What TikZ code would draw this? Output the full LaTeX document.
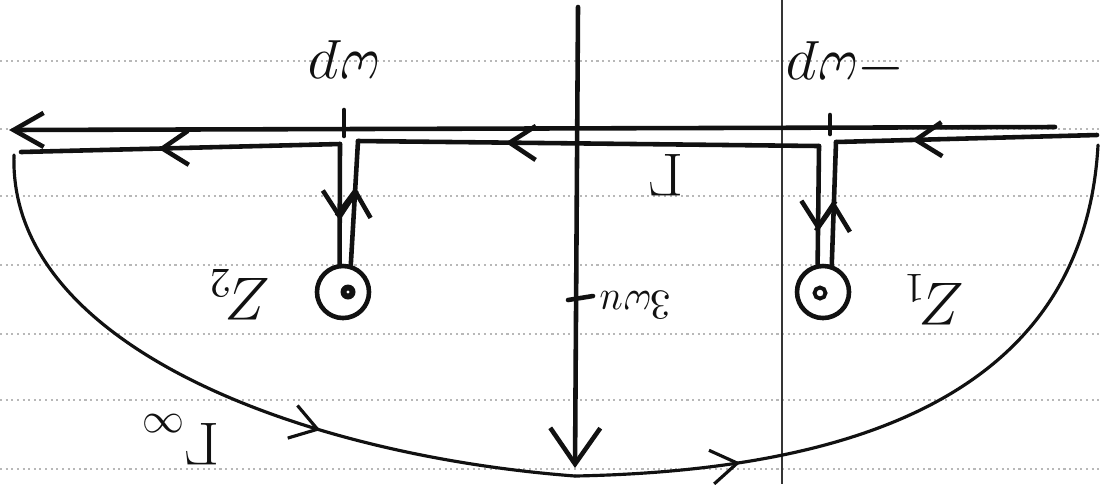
\documentclass[tikz,border=0pt]{standalone}
\usetikzlibrary{arrows.meta,positioning,calc,decorations.markings}
\definecolor{ink}{HTML}{111111}
\definecolor{rulegray}{HTML}{B8B8B8}

\begin{document}
\begin{tikzpicture}[
    x=0.01cm, y=-0.01cm,
    pen/.style={draw=ink, line width=1.3pt, line cap=round, line join=round},
    thinpen/.style={draw=ink, line width=0.9pt, line cap=round},
    tip/.style={-{Straight Barb[length=3mm, width=3.4mm]}},
    midtip/.style={postaction={decorate}, decoration={markings, mark=at position #1 with {\arrow{Straight Barb[length=2.6mm, width=3.4mm]}}}},
    pole/.style={draw=ink, line width=1.3pt, circle, minimum size=0.52cm, inner sep=0pt},
    lbl/.style={text=ink, font=\LARGE, rotate=180, inner sep=0pt},
    ruled/.style={draw=rulegray, line width=0.35pt, dash pattern=on 0.6pt off 1pt}
  ]
    \useasboundingbox (0,0) rectangle (1101,484);
    % notebook paper
    \foreach \y in {61,129,196,265,334,400,469}
      \draw[ruled] (0,\y) -- (1101,\y);
    \draw[draw=ink!85, line width=0.3pt] (782,0) -- (782,484);

    % axes
    \coordinate (reR) at (1055,127);
    \coordinate (reL) at (9,130);
    \coordinate (imT) at (578,7);
    \coordinate (imB) at (575,468);
    \draw[pen, tip] (reR) -- (reL);
    \draw[pen, -{Straight Barb[length=3.6mm, width=5mm]}] (imT) -- (imB);
    \draw[pen] (344,110) -- (344,136);
    \draw[pen] (830,115) -- (830,134);
    \draw[pen] (568,300) -- (593,296);

    % poles
    \node[pole] (p1) at (823,292) {};
    \node[pole] (p2) at (343,292) {};
    \node[circle, draw=ink, line width=1.1pt, minimum size=0.11cm, inner sep=0pt] (c1) at (820,293) {};
    \node[circle, fill=ink, minimum size=0.15cm, inner sep=0pt] (c2) at (348,292) {};
    \fill[white] (c2) circle (1.6);

    % contour
    \coordinate (rEnd) at (1097,135);
    \coordinate (k1R) at (836,142);
    \coordinate (k1L) at (819,146);
    \coordinate (k2R) at (358,141);
    \coordinate (k2L) at (340,144);
    \coordinate (lEnd) at (21,152);
    \coordinate (bot) at (575,476);
    \draw[pen, midtip=0.71] (rEnd) -- (k1R);
    \draw[pen, midtip=0.52] (p1.72) -- (k1R);
    \draw[pen, midtip=0.72] (k1L) -- (p1.101);
    \draw[pen, midtip=0.68] (k1L) -- (k2R);
    \draw[pen, midtip=0.63] (p2.74) -- (k2R);
    \draw[pen, midtip=0.64] (k2L) -- (p2.97);
    \draw[pen, midtip=0.57] (k2L) -- (lEnd);
    \draw[thinpen, midtip=0.63] (14,155) .. controls (8,345) and (300,455) .. (bot);
    \draw[thinpen, midtip=0.24] (bot) .. controls (880,470) and (1085,380) .. (1098,145);

    % labels
    \node[lbl] (wp) at (344,60) {$\omega p$};
    \node[lbl] (mwp) at (846,65) {$-\omega p$};
    \node[lbl] (z2) at (240,295) {$Z_2$};
    \node[lbl] (z1) at (934,300) {$Z_1$};
    \node[lbl] (gam) at (666,175) {$\Gamma$};
    \node[lbl] (gaminf) at (180,440) {$\Gamma_\infty$};
    \node[lbl, font=\large] (tick) at (635,305) {$3\omega u$};
  \end{tikzpicture}
\end{document}
